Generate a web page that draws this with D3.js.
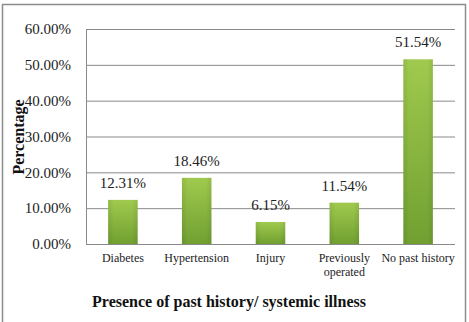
<!DOCTYPE html>
<html><head><meta charset="utf-8">
<script src="https://cdn.jsdelivr.net/npm/d3@7"></script>
<style>body{margin:0;background:#fff}svg{display:block}</style>
</head><body>
<script>
const categories = ["Diabetes", "Hypertension", "Injury", "Previously operated", "No past history"];
const values = [12.31, 18.46, 6.15, 11.54, 51.54];
const yTicks = [0, 10, 20, 30, 40, 50, 60];
const xTitle = "Presence of past history/ systemic illness";
const yTitle = "Percentage";

const W = 469, H = 322;
const m = {left: 86, right: 14, top: 29, bottom: 78};
const svg = d3.select("body").append("svg").attr("width", W).attr("height", H);
const font = "Liberation Serif, Times New Roman, serif";

const defs = svg.append("defs");
const g1 = defs.append("linearGradient").attr("id", "bg").attr("x1", 0).attr("y1", 0).attr("x2", 0).attr("y2", 1);
g1.append("stop").attr("offset", "0%").attr("stop-color", "#a0ca4e");
g1.append("stop").attr("offset", "100%").attr("stop-color", "#71a031");
const g2 = defs.append("linearGradient").attr("id", "bh").attr("x1", 0).attr("y1", 0).attr("x2", 1).attr("y2", 0);
g2.append("stop").attr("offset", "0%").attr("stop-color", "#000").attr("stop-opacity", 0.08);
g2.append("stop").attr("offset", "20%").attr("stop-color", "#000").attr("stop-opacity", 0);
g2.append("stop").attr("offset", "80%").attr("stop-color", "#000").attr("stop-opacity", 0);
g2.append("stop").attr("offset", "100%").attr("stop-color", "#000").attr("stop-opacity", 0.08);

svg.append("rect").attr("x", 2.5).attr("y", 4.5).attr("width", 463).attr("height", 320)
  .attr("fill", "#fff").attr("stroke", "#8c8c8c").attr("stroke-width", 1.5);

const x = d3.scaleBand().domain(categories).range([m.left, W - m.right]).paddingInner(0.6).paddingOuter(0.3);
const y = d3.scaleLinear().domain([0, 60]).range([H - m.bottom, m.top]);

// gridlines
svg.append("g").selectAll("line").data(yTicks).join("line")
  .attr("x1", m.left).attr("x2", W - m.right)
  .attr("y1", d => y(d) + 0.5).attr("y2", d => y(d) + 0.5)
  .attr("stroke", "#8a8a8a").attr("stroke-width", 1);

// left axis
const ya = svg.append("g").attr("transform", `translate(${m.left},0)`)
  .call(d3.axisLeft(y).tickValues(yTicks).tickSize(0).tickPadding(15).tickFormat(d => d.toFixed(2) + "%"));
ya.select(".domain").attr("stroke", "#8a8a8a").attr("d", `M0.5,${y(0)}V${y(60)}`);
ya.selectAll("text").attr("font-family", font).attr("font-size", 15).attr("fill", "#222");

// bars
const bars = svg.append("g");
bars.selectAll("rect.b").data(values).join("rect").attr("class", "b")
  .attr("x", (d, i) => x(categories[i])).attr("width", x.bandwidth())
  .attr("y", d => y(d)).attr("height", d => y(0) - y(d)).attr("fill", "url(#bg)");
bars.selectAll("rect.s").data(values).join("rect").attr("class", "s")
  .attr("x", (d, i) => x(categories[i])).attr("width", x.bandwidth())
  .attr("y", d => y(d)).attr("height", d => y(0) - y(d)).attr("fill", "url(#bh)");

// data labels
svg.append("g").selectAll("text").data(values).join("text")
  .attr("x", (d, i) => x(categories[i]) + x.bandwidth() / 2)
  .attr("y", d => y(d) - 12)
  .attr("text-anchor", "middle").attr("font-family", font).attr("font-size", 15).attr("fill", "#222")
  .text(d => d.toFixed(2) + "%");

// category labels
const xa = svg.append("g").attr("transform", `translate(0,${y(0)})`)
  .call(d3.axisBottom(x).tickSize(0).tickFormat(""));
xa.select(".domain").remove();
const catLines = {"Previously operated": ["Previously", "operated"]};
svg.append("g").selectAll("text").data(categories).join("text")
  .attr("x", d => x(d) + x.bandwidth() / 2).attr("y", y(0) + 18)
  .attr("text-anchor", "middle").attr("font-family", font).attr("font-size", 12).attr("fill", "#222")
  .each(function(d) {
    const lines = catLines[d] || [d];
    d3.select(this).selectAll("tspan").data(lines).join("tspan")
      .attr("x", x(d) + x.bandwidth() / 2).attr("dy", (l, i) => i ? 14 : 0).text(l => l);
  });

// titles
svg.append("text").attr("x", 229).attr("y", 307).attr("text-anchor", "middle")
  .attr("font-family", font).attr("font-weight", "bold").attr("font-size", 16).attr("fill", "#111").text(xTitle);
svg.append("text").attr("transform", "translate(24,137) rotate(-90)").attr("text-anchor", "middle")
  .attr("font-family", font).attr("font-weight", "bold").attr("font-size", 16).attr("fill", "#111").text(yTitle);
</script>
</body></html>
